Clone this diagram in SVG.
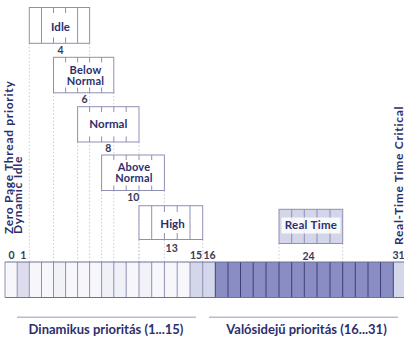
<svg xmlns="http://www.w3.org/2000/svg" width="404" height="337" viewBox="0 0 404 337">
<style>
.t{font-family:Lato,"Noto Sans",sans-serif;font-weight:bold;fill:#2c2f6e;text-anchor:middle}
.lab{font-size:11.5px}
.lab2{font-size:11px;letter-spacing:0.2px}
.side{font-size:12px;letter-spacing:0.7px;text-anchor:start}
.num{font-family:Lato,"Noto Sans",sans-serif;font-weight:bold;font-size:10.5px;fill:#3a3a55;text-anchor:middle}
.box{fill:#ffffff;stroke:#8e90b2;stroke-width:1}
.rt{fill:#d3d5e9;stroke:#8e90b2;stroke-width:1}
.in{stroke:#8e90b2;stroke-width:1}
.bg{fill:#ffffff}
.guide{stroke:#c9cadb;stroke-width:1;stroke-dasharray:1.5 2;fill:none}
.cl{fill:#f7f7fb}
.cm{fill:#d4d6ea}
.cd{fill:#8a8dc3}
.dv{stroke:#8e90b2;stroke-width:1}
.dd{stroke:#3d3f7a;stroke-width:1}
.rule{stroke:#b9bcd0;stroke-width:1.5}
</style>

<g id="connectors">
  <line class="guide" x1="29.3" y1="43.3" x2="29.3" y2="262"/>
  <line class="guide" x1="89.6" y1="43.3" x2="89.6" y2="262"/>
  <line class="guide" x1="53.5" y1="92.5" x2="53.5" y2="262"/>
  <line class="guide" x1="113.8" y1="92.5" x2="113.8" y2="262"/>
  <line class="guide" x1="77.6" y1="142" x2="77.6" y2="262"/>
  <line class="guide" x1="139" y1="142" x2="139" y2="262"/>
  <line class="guide" x1="101.6" y1="190.5" x2="101.6" y2="262"/>
  <line class="guide" x1="164.4" y1="190.5" x2="164.4" y2="262"/>
  <line class="guide" x1="139" y1="239.5" x2="139" y2="262"/>
  <line class="guide" x1="202.7" y1="239.5" x2="202.7" y2="262"/>
  <line class="guide" x1="279" y1="243.5" x2="279" y2="262"/>
  <line class="guide" x1="342.7" y1="243.5" x2="342.7" y2="262"/>
</g>

<g id="bar">
  <rect class="cl" x="5" y="262" width="12.2" height="35.5"/>
  <rect x="17.2" y="262" width="12.1" height="35.5" fill="#dcdcec"/>
  <rect class="cl" x="29.3" y="262" width="160.7" height="35.5"/>
  <rect x="53.5" y="262" width="12.1" height="35.5" fill="#f1f1f8"/>
  <rect x="101.6" y="262" width="24.6" height="35.5" fill="#f0f0f7"/>
  <rect x="139" y="262" width="12.7" height="35.5" fill="#f1f1f8"/>
  <rect class="cm" x="190" y="262" width="25.3" height="35.5"/>
  <rect class="cd" x="215.3" y="262" width="178" height="35.5"/>
  <rect class="cm" x="393.3" y="262" width="12.7" height="35.5"/>
  <g>
    <line class="dv" x1="5" y1="262" x2="5" y2="297.5"/>
    <line class="dv" x1="17.2" y1="262" x2="17.2" y2="297.5"/>
    <line class="dv" x1="29.3" y1="262" x2="29.3" y2="297.5"/>
    <line class="dv" x1="41.5" y1="262" x2="41.5" y2="297.5"/>
    <line class="dv" x1="53.5" y1="262" x2="53.5" y2="297.5"/>
    <line class="dv" x1="65.6" y1="262" x2="65.6" y2="297.5"/>
    <line class="dv" x1="77.6" y1="262" x2="77.6" y2="297.5"/>
    <line class="dv" x1="89.6" y1="262" x2="89.6" y2="297.5"/>
    <line class="dv" x1="101.6" y1="262" x2="101.6" y2="297.5"/>
    <line class="dv" x1="113.8" y1="262" x2="113.8" y2="297.5"/>
    <line class="dv" x1="126.2" y1="262" x2="126.2" y2="297.5"/>
    <line class="dv" x1="139" y1="262" x2="139" y2="297.5"/>
    <line class="dv" x1="151.7" y1="262" x2="151.7" y2="297.5"/>
    <line class="dv" x1="164.4" y1="262" x2="164.4" y2="297.5"/>
    <line class="dv" x1="177.2" y1="262" x2="177.2" y2="297.5"/>
    <line class="dv" x1="190" y1="262" x2="190" y2="297.5"/>
    <line class="dv" x1="202.7" y1="262" x2="202.7" y2="297.5"/>
    <line class="dd" x1="215.3" y1="262" x2="215.3" y2="297.5"/>
    <line class="dd" x1="228" y1="262" x2="228" y2="297.5"/>
    <line class="dd" x1="240.5" y1="262" x2="240.5" y2="297.5"/>
    <line class="dd" x1="253.2" y1="262" x2="253.2" y2="297.5"/>
    <line class="dd" x1="266" y1="262" x2="266" y2="297.5"/>
    <line class="dd" x1="279" y1="262" x2="279" y2="297.5"/>
    <line class="dd" x1="291.7" y1="262" x2="291.7" y2="297.5"/>
    <line class="dd" x1="304.3" y1="262" x2="304.3" y2="297.5"/>
    <line class="dd" x1="317" y1="262" x2="317" y2="297.5"/>
    <line class="dd" x1="330" y1="262" x2="330" y2="297.5"/>
    <line class="dd" x1="342.7" y1="262" x2="342.7" y2="297.5"/>
    <line class="dd" x1="355.3" y1="262" x2="355.3" y2="297.5"/>
    <line class="dd" x1="368" y1="262" x2="368" y2="297.5"/>
    <line class="dd" x1="380.5" y1="262" x2="380.5" y2="297.5"/>
    <line class="dd" x1="393.3" y1="262" x2="393.3" y2="297.5"/>
  </g>
  <line x1="5" y1="262" x2="404" y2="262" stroke="#6f7297" stroke-width="1"/>
  <line x1="5" y1="297.5" x2="404" y2="297.5" stroke="#6f7297" stroke-width="1"/>
</g>

<g id="numbers">
  <text class="num" x="11.5" y="259">0</text>
  <text class="num" x="23.3" y="259">1</text>
  <text class="num" x="60.5" y="54">4</text>
  <text class="num" x="84.5" y="103">6</text>
  <text class="num" x="108.3" y="152">8</text>
  <text class="num" x="133.3" y="201">10</text>
  <text class="num" x="171.7" y="252">13</text>
  <text class="num" x="196" y="259">15</text>
  <text class="num" x="209.5" y="259">16</text>
  <text class="num" x="308.5" y="259.5">24</text>
  <text class="num" x="398.5" y="259">31</text>
</g>

<g id="idle">
  <rect class="box" x="29.3" y="7.5" width="60.3" height="35.8"/>
  <line class="in" x1="41.5" y1="7.5" x2="41.5" y2="43.3"/>
  <line class="in" x1="53.5" y1="7.5" x2="53.5" y2="43.3"/>
  <line class="in" x1="65.6" y1="7.5" x2="65.6" y2="43.3"/>
  <line class="in" x1="77.6" y1="7.5" x2="77.6" y2="43.3"/>
  <rect class="bg" x="47" y="13" width="27" height="24.5"/>
  <text class="t lab" x="60.5" y="30.7">Idle</text>
</g>

<g id="below-normal">
  <rect class="box" x="53.5" y="57.3" width="60.3" height="35.5"/>
  <line class="in" x1="65.6" y1="57.3" x2="65.6" y2="92.8"/>
  <line class="in" x1="77.6" y1="57.3" x2="77.6" y2="92.8"/>
  <line class="in" x1="89.6" y1="57.3" x2="89.6" y2="92.8"/>
  <line class="in" x1="101.6" y1="57.3" x2="101.6" y2="92.8"/>
  <rect class="bg" x="62" y="62.5" width="47" height="25"/>
  <text class="t lab2" x="85.5" y="73.8">Below</text>
  <text class="t lab2" x="85.5" y="85">Normal</text>
</g>

<g id="normal">
  <rect class="box" x="77.6" y="106.7" width="61.4" height="35.3"/>
  <line class="in" x1="89.6" y1="106.7" x2="89.6" y2="142"/>
  <line class="in" x1="101.6" y1="106.7" x2="101.6" y2="142"/>
  <line class="in" x1="113.8" y1="106.7" x2="113.8" y2="142"/>
  <line class="in" x1="126.2" y1="106.7" x2="126.2" y2="142"/>
  <rect class="bg" x="85" y="112" width="47" height="24.5"/>
  <text class="t lab" x="108.3" y="128.3">Normal</text>
</g>

<g id="above-normal">
  <rect class="box" x="101.6" y="155" width="62.8" height="35.5"/>
  <line class="in" x1="113.8" y1="155" x2="113.8" y2="190.5"/>
  <line class="in" x1="126.2" y1="155" x2="126.2" y2="190.5"/>
  <line class="in" x1="139" y1="155" x2="139" y2="190.5"/>
  <line class="in" x1="151.7" y1="155" x2="151.7" y2="190.5"/>
  <rect class="bg" x="110" y="160" width="47" height="25.5"/>
  <text class="t lab2" x="134" y="170.5">Above</text>
  <text class="t lab2" x="134" y="181.5">Normal</text>
</g>

<g id="high">
  <rect class="box" x="139" y="205.7" width="63.7" height="33.8"/>
  <line class="in" x1="151.7" y1="205.7" x2="151.7" y2="239.5"/>
  <line class="in" x1="164.4" y1="205.7" x2="164.4" y2="239.5"/>
  <line class="in" x1="177.2" y1="205.7" x2="177.2" y2="239.5"/>
  <line class="in" x1="190" y1="205.7" x2="190" y2="239.5"/>
  <rect class="bg" x="157" y="212" width="31" height="21"/>
  <text class="t lab" x="172.5" y="228.3">High</text>
</g>

<g id="real-time">
  <rect class="rt" x="279" y="209.3" width="63.7" height="34.2"/>
  <line class="in" x1="291.7" y1="209.3" x2="291.7" y2="243.5"/>
  <line class="in" x1="304.3" y1="209.3" x2="304.3" y2="243.5"/>
  <line class="in" x1="317" y1="209.3" x2="317" y2="243.5"/>
  <line class="in" x1="330" y1="209.3" x2="330" y2="243.5"/>
  <rect class="bg" x="281.5" y="217.5" width="59" height="16" fill-opacity="0.85"/>
  <text class="t lab" x="311" y="229.3" letter-spacing="0.3">Real Time</text>
</g>

<g id="side-labels">
  <text class="t side" transform="translate(12.5,234) rotate(-90)">Zero Page Thread priority</text>
  <text class="t side" transform="translate(21.5,234) rotate(-90)">Dynamic Idle</text>
  <text class="t side" transform="translate(402.5,245) rotate(-90)" font-size="14" letter-spacing="0.9">Real-Time Time Critical</text>
</g>

<g id="ranges">
  <line class="rule" x1="17" y1="317.3" x2="196" y2="317.3"/>
  <line class="rule" x1="209" y1="317.3" x2="398" y2="317.3"/>
  <text class="t" x="106" y="333.5" font-size="13">Dinamikus prioritás (1...15)</text>
  <text class="t" x="306.5" y="333.5" font-size="13">Valósidejű prioritás (16...31)</text>
</g>
</svg>
